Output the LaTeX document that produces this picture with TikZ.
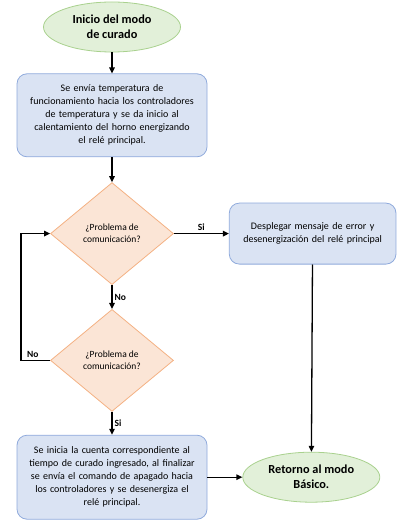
\documentclass[tikz,border=0pt]{standalone}
\usepackage{fontspec}
\setmainfont{Carlito}
\usepackage{xcolor}
\usetikzlibrary{arrows.meta,positioning,shapes.geometric}

\definecolor{termFondo}{HTML}{E2F0D9}
\definecolor{termBorde}{HTML}{A9D18E}
\definecolor{procFondo}{HTML}{DAE3F3}
\definecolor{procBorde}{HTML}{8FAADC}
\definecolor{decFondo}{HTML}{FBE5D6}
\definecolor{decBorde}{HTML}{F4B183}

\begin{document}
\begin{tikzpicture}[
    x=1pt, y=1pt,
    node distance=22pt and 55pt,
    terminal/.style={ellipse, draw=termBorde, fill=termFondo, line width=0.8pt,
        minimum width=137pt, minimum height=50pt, align=center,
        font=\fontsize{12.3}{15}\selectfont\bfseries},
    proceso/.style={rectangle, rounded corners=10pt, draw=procBorde, fill=procFondo,
        line width=0.8pt, align=center, font=\fontsize{10}{13}\selectfont},
    decision/.style={diamond, draw=decBorde, fill=decFondo, line width=0.8pt,
        minimum width=123pt, minimum height=102pt, inner sep=0pt, align=center,
        font=\fontsize{9.5}{12}\selectfont},
    etiq/.style={font=\fontsize{9.5}{11}\selectfont\bfseries, inner sep=2pt},
    arr/.style={-{Triangle[length=6pt,width=5.5pt]}, line width=1.3pt}
]
\useasboundingbox (0,0) rectangle (400,-529);

\node[terminal] (inicio) at (112,-27) {Inicio del modo\\de curado};
\node[proceso, minimum width=190pt, minimum height=83pt, text width=180pt] (envio) [below=21pt of inicio]
    {Se envía temperatura de\\funcionamiento hacia los controladores\\de temperatura y se da inicio al\\calentamiento del horno energizando\\el relé principal.};
\node[decision] (prob1) [below=25pt of envio] {¿Problema de\\comunicación?};
\node[decision] (prob2) [below=24pt of prob1] {¿Problema de\\comunicación?};
\node[proceso, minimum width=190pt, minimum height=84pt, text width=180pt] (cuenta) [below=23pt of prob2]
    {Se inicia la cuenta correspondiente al\\tiempo de curado ingresado, al finalizar\\se envía el comando de apagado hacia\\los controladores y se desenergiza el\\relé principal.};
\node[proceso, minimum width=164pt, minimum height=61pt, text width=160pt] (error) [right=55pt of prob1]
    {Desplegar mensaje de error y\\desenergización del relé principal};
\node[terminal] (retorno) [right=35pt of cuenta] {Retorno al modo\\Básico.};

\draw[arr] (inicio) -- (envio);
\draw[arr] (envio) -- (prob1);
\draw[arr] (prob1) -- node[etiq, above] {Si} (error);
\draw[arr] (prob1) -- node[etiq, right] {No} (prob2);
\draw[arr] (prob2.west) -- ++(-29,0) node[etiq, above, pos=0.6] {No} |- (prob1.west);
\draw[arr] (prob2) -- node[etiq, right] {Si} (cuenta);
\draw[arr] (cuenta) -- (retorno);
\draw[arr] (error) -- (retorno);
\end{tikzpicture}
\end{document}
